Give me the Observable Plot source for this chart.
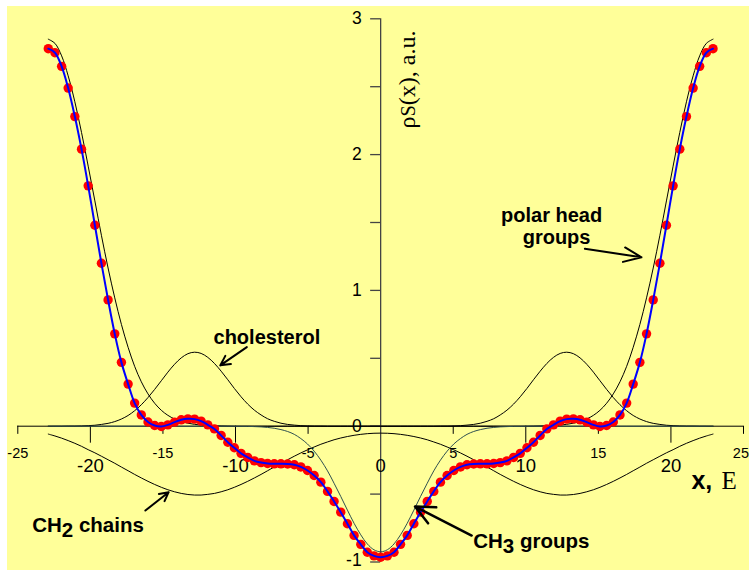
<!DOCTYPE html>
<html><head><meta charset="utf-8">
<script src="https://cdn.jsdelivr.net/npm/d3@7"></script>
<script src="https://cdn.jsdelivr.net/npm/@observablehq/plot@0.6"></script>
<style>
html,body{margin:0;padding:0;background:#fff;}
#chart{padding:6px 0 0 7px;width:742px;height:564px;}
svg{display:block}
</style></head><body><div id="chart"></div>
<script>
const xGrid = [-22.9, -22.44, -21.98, -21.53, -21.07, -20.61, -20.15, -19.69, -19.24, -18.78, -18.32, -17.86, -17.4, -16.95, -16.49, -16.03, -15.57, -15.11, -14.66, -14.2, -13.74, -13.28, -12.82, -12.37, -11.91, -11.45, -10.99, -10.53, -10.08, -9.62, -9.16, -8.7, -8.24, -7.79, -7.33, -6.87, -6.41, -5.95, -5.5, -5.04, -4.58, -4.12, -3.66, -3.21, -2.75, -2.29, -1.83, -1.37, -0.92, -0.46, 0, 0.46, 0.92, 1.37, 1.83, 2.29, 2.75, 3.21, 3.66, 4.12, 4.58, 5.04, 5.5, 5.95, 6.41, 6.87, 7.33, 7.79, 8.24, 8.7, 9.16, 9.62, 10.08, 10.53, 10.99, 11.45, 11.91, 12.37, 12.82, 13.28, 13.74, 14.2, 14.66, 15.11, 15.57, 16.03, 16.49, 16.95, 17.4, 17.86, 18.32, 18.78, 19.24, 19.69, 20.15, 20.61, 21.07, 21.53, 21.98, 22.44, 22.9];

const total = [2.78, 2.75, 2.65, 2.49, 2.28, 2.04, 1.77, 1.48, 1.2, 0.93,
 0.68, 0.47, 0.31, 0.17, 0.083, 0.031, 0.005, -0.002, 0.01, 0.03,
 0.047, 0.054, 0.052, 0.037, 0.01, -0.02, -0.068, -0.118, -0.159, -0.2,
 -0.23, -0.255, -0.268, -0.275, -0.277, -0.277, -0.278, -0.284, -0.3, -0.326,
 -0.363, -0.412, -0.48, -0.554, -0.633, -0.718, -0.804, -0.87, -0.928, -0.955,
 -0.965,
 -0.955, -0.928, -0.87, -0.804, -0.718, -0.633, -0.554, -0.48, -0.412, -0.363,
 -0.326, -0.3, -0.284, -0.278, -0.277, -0.277, -0.275, -0.268, -0.255, -0.23,
 -0.2, -0.159, -0.118, -0.068, -0.02, 0.01, 0.037, 0.052, 0.054, 0.047,
 0.03, 0.01, -0.002, 0.005, 0.031, 0.083, 0.17, 0.31, 0.47, 0.68,
 0.93, 1.2, 1.48, 1.77, 2.04, 2.28, 2.49, 2.65, 2.75, 2.78];

const polarHead = [2.85, 2.819, 2.727, 2.58, 2.389, 2.163, 1.915, 1.659, 1.406, 1.165,
 0.945, 0.749, 0.581, 0.441, 0.327, 0.238, 0.169, 0.117, 0.08, 0.053,
 0.034, 0.022, 0.014, 0.008, 0.005, 0.003, 0.002, 0.001,
 0, 0, 0, 0, 0, 0, 0, 0, 0, 0, 0, 0, 0, 0, 0, 0, 0, 0, 0, 0, 0, 0, 0, 0, 0,
 0, 0, 0, 0, 0, 0, 0, 0, 0, 0, 0, 0, 0, 0, 0, 0, 0, 0, 0, 0,
 0.001, 0.002, 0.003, 0.005, 0.008, 0.014, 0.022, 0.034,
 0.053, 0.08, 0.117, 0.169, 0.238, 0.327, 0.441, 0.581, 0.749, 0.945,
 1.165, 1.406, 1.659, 1.915, 2.163, 2.389, 2.58, 2.727, 2.819, 2.85];

const cholesterol = [0, 0, 0, 0.001, 0.001, 0.002, 0.004, 0.007, 0.013, 0.021,
 0.034, 0.053, 0.079, 0.114, 0.158, 0.211, 0.271, 0.335, 0.398, 0.456,
 0.503, 0.534, 0.545, 0.536, 0.507, 0.462, 0.405, 0.342, 0.278, 0.217,
 0.163, 0.118, 0.083, 0.055, 0.036, 0.022, 0.013, 0.008, 0.004, 0.002,
 0.001, 0.001,
 0, 0, 0, 0, 0, 0, 0, 0, 0, 0, 0, 0, 0, 0, 0, 0, 0,
 0.001, 0.001,
 0.002, 0.004, 0.008, 0.013, 0.022, 0.036, 0.055, 0.083, 0.118, 0.163,
 0.217, 0.278, 0.342, 0.405, 0.462, 0.507, 0.536, 0.545, 0.534, 0.503,
 0.456, 0.398, 0.335, 0.271, 0.211, 0.158, 0.114, 0.079, 0.053, 0.034,
 0.021, 0.013, 0.007, 0.004, 0.002, 0.001, 0.001, 0, 0, 0];

const ch2Chains = [-0.058, -0.072, -0.088, -0.106, -0.126, -0.148, -0.173, -0.196, -0.221, -0.247,
 -0.273, -0.301, -0.328, -0.355, -0.381, -0.406, -0.429, -0.45, -0.468, -0.483,
 -0.495, -0.503, -0.507, -0.507, -0.502, -0.495, -0.483, -0.468, -0.45, -0.429,
 -0.406, -0.381, -0.355, -0.328, -0.3, -0.273, -0.247, -0.221, -0.197, -0.174,
 -0.153, -0.133, -0.116, -0.1, -0.087, -0.076, -0.067, -0.06, -0.055, -0.052,
 -0.051,
 -0.052, -0.055, -0.06, -0.067, -0.076, -0.087, -0.1, -0.116, -0.133, -0.153,
 -0.174, -0.197, -0.221, -0.247, -0.273, -0.3, -0.328, -0.355, -0.381, -0.406,
 -0.429, -0.45, -0.468, -0.483, -0.495, -0.502, -0.507, -0.507, -0.503, -0.495,
 -0.483, -0.468, -0.45, -0.429, -0.406, -0.381, -0.355, -0.328, -0.301, -0.273,
 -0.247, -0.221, -0.196, -0.173, -0.148, -0.126, -0.106, -0.088, -0.072, -0.058];

const ch3Groups = [0, 0, 0, 0, 0, 0, 0, 0, 0, 0,
 0, 0, 0, 0, 0, 0, 0, 0, 0, 0,
 0, 0, 0, 0, 0, 0, 0, 0, 0, -0.001,
 -0.001, -0.003, -0.005, -0.009, -0.015, -0.025, -0.039, -0.06, -0.091, -0.131,
 -0.184, -0.25, -0.329, -0.42, -0.517, -0.618, -0.715, -0.8, -0.867, -0.91,
 -0.925,
 -0.91, -0.867, -0.8, -0.715, -0.618, -0.517, -0.42, -0.329, -0.25, -0.184,
 -0.131, -0.091, -0.06, -0.039, -0.025, -0.015, -0.009, -0.005, -0.003, -0.001,
 -0.001, 0, 0, 0, 0, 0, 0, 0, 0, 0,
 0, 0, 0, 0, 0, 0, 0, 0, 0, 0,
 0, 0, 0, 0, 0, 0, 0, 0, 0, 0];

const yTickValues = [-1, 0, 1, 2, 3];
const yMinorTicks = [-0.5, 0.5, 1.5, 2.5];
const xMajorTicks = [-20, -10, 0, 10, 20];
const xMinorTicks = [-25, -15, -5, 5, 15, 25];

const rows = xGrid.map((x, i) => ({x, total: total[i], head: polarHead[i], chol: cholesterol[i], ch2: ch2Chains[i], ch3: ch3Groups[i]}));

const sans = "'Liberation Sans', Arial, sans-serif";
const serif = "'Liberation Serif', 'Times New Roman', serif";
const lastMinor = xMinorTicks[xMinorTicks.length - 1];
const lowestY = yTickValues[0];

const plot = Plot.plot({
  width: 742, height: 564,
  marginLeft: 10.3, marginRight: 6, marginTop: 12.3, marginBottom: 8.5,
  x: {domain: [-25, 25], axis: null},
  y: {domain: [-1, 3], axis: null},
  style: {background: "#ffff99", fontFamily: sans, overflow: "hidden"},
  marks: [
    // axes
    Plot.ruleY([0], {x1: -25, x2: 25, stroke: "#000", strokeWidth: 1}),
    Plot.ruleX([0], {y1: -1, y2: 3, stroke: "#444", strokeWidth: 1.3}),
    Plot.ruleY(yTickValues.concat(yMinorTicks), {y: d => d, x1: -0.69, x2: 0, stroke: "#444", strokeWidth: 1.3}),
    Plot.ruleX(xMajorTicks.filter(d => d !== 0), {x: d => d, y1: 0, y2: -0.125, stroke: "#000"}),
    Plot.ruleX(xMinorTicks, {x: d => d, y1: 0, y2: -0.06, stroke: "#000"}),
    Plot.text(yTickValues.filter(d => d !== lowestY), {x: 0, y: d => d, text: d => String(d), dx: -19, textAnchor: "end", fontSize: 17.5, fill: "#000"}),
    Plot.text([lowestY], {x: 0, y: d => d, text: d => String(d), dx: -19, dy: -2, textAnchor: "end", fontSize: 17.5, fill: "#000"}),
    Plot.text(xMajorTicks, {x: d => d, y: -0.29, text: d => String(d), fontSize: 18.5, fill: "#000"}),
    Plot.text(xMinorTicks.filter(d => d !== lastMinor), {x: d => d, y: -0.2, text: d => String(d), fontSize: 14.5, fill: "#000"}),
    Plot.text([lastMinor], {x: d => d, y: -0.2, text: d => String(d), textAnchor: "end", dx: 5.5, fontSize: 14.5, fill: "#000"}),
    // component curves
    Plot.line(rows, {x: "x", y: "head", stroke: "#000", strokeWidth: 1, curve: "catmull-rom"}),
    Plot.line(rows, {x: "x", y: "chol", stroke: "#000", strokeWidth: 1, curve: "catmull-rom"}),
    Plot.line(rows, {x: "x", y: "ch2", stroke: "#000", strokeWidth: 1, curve: "catmull-rom"}),
    Plot.line(rows, {x: "x", y: "ch3", stroke: "#2f5050", strokeWidth: 1, curve: "catmull-rom"}),
    // total
    Plot.dot(rows, {x: "x", y: "total", r: 4.7, fill: "#ff0000", stroke: "none"}),
    Plot.line(rows, {x: "x", y: "total", stroke: "#0000ff", strokeWidth: 2, curve: "catmull-rom"}),
    // axis titles
    Plot.text([{x: 1.81, y: 2.553, t: "ρS(x), a.u."}], {x: "x", y: "y", text: "t", rotate: -90, fontFamily: serif, fontSize: 24, fill: "#000"}),
    Plot.text([{x: 21.41, y: -0.40, t: "x,"}], {x: "x", y: "y", text: "t", textAnchor: "start", fontFamily: sans, fontWeight: "bold", fontSize: 25, fill: "#000"}),
    Plot.text([{x: 23.48, y: -0.40, t: "E"}], {x: "x", y: "y", text: "t", textAnchor: "start", fontFamily: serif, fontSize: 25, fill: "#000"}),
    // annotations
    Plot.text([{x: -7.84, y: 0.653, t: "cholesterol"}], {x: "x", y: "y", text: "t", fontSize: 20, fontWeight: "bold", fill: "#000"}),
    Plot.text([{x: 11.78, y: 1.55, t: "polar head"}], {x: "x", y: "y", text: "t", fontSize: 20, fontWeight: "bold", fill: "#000"}),
    Plot.text([{x: 12.12, y: 1.39, t: "groups"}], {x: "x", y: "y", text: "t", fontSize: 20, fontWeight: "bold", fill: "#000"}),
    Plot.text([{x: -24.01, y: -0.731, t: "CH2 chains"}], {x: "x", y: "y", text: "t", textAnchor: "start", fontSize: 20.5, fontWeight: "bold", fill: "#000"}),
    Plot.text([{x: 6.38, y: -0.849, t: "CH3 groups"}], {x: "x", y: "y", text: "t", textAnchor: "start", fontSize: 20.5, fontWeight: "bold", fill: "#000"}),
    Plot.arrow([{x1: -9.22, y1: 0.582, x2: -11.05, y2: 0.448}], {x1: "x1", y1: "y1", x2: "x2", y2: "y2", stroke: "#000", strokeWidth: 2, headLength: 11, headAngle: 55}),
    Plot.arrow([{x1: 14.07, y1: 1.306, x2: 17.97, y2: 1.244}], {x1: "x1", y1: "y1", x2: "x2", y2: "y2", stroke: "#000", strokeWidth: 2, headLength: 15, headAngle: 45}),
    Plot.arrow([{x1: -16.21, y1: -0.621, x2: -14.61, y2: -0.486}], {x1: "x1", y1: "y1", x2: "x2", y2: "y2", stroke: "#000", strokeWidth: 2, headLength: 11, headAngle: 55}),
    Plot.arrow([{x1: 6.27, y1: -0.805, x2: 2.37, y2: -0.592}], {x1: "x1", y1: "y1", x2: "x2", y2: "y2", stroke: "#000", strokeWidth: 2.5, headLength: 17, headAngle: 50})
  ]
});

document.getElementById("chart").appendChild(plot);

// subscripts and the y-title's S
d3.select(plot).selectAll("text").each(function() {
  const t = this.textContent;
  const m = /^CH([23]) (.*)$/.exec(t);
  if (m) {
    const el = d3.select(this);
    el.text(null);
    el.append("tspan").text("CH");
    el.append("tspan").attr("dy", "0.22em").text(m[1]);
    el.append("tspan").attr("dy", "-0.22em").text(" " + m[2]);
  } else if (t === "ρS(x), a.u.") {
    const el = d3.select(this);
    el.text(null);
    el.append("tspan").text("ρ");
    el.append("tspan").attr("font-size", "0.85em").text("S");
    el.append("tspan").text("(x), a.u.");
  }
});
</script>
</body></html>
